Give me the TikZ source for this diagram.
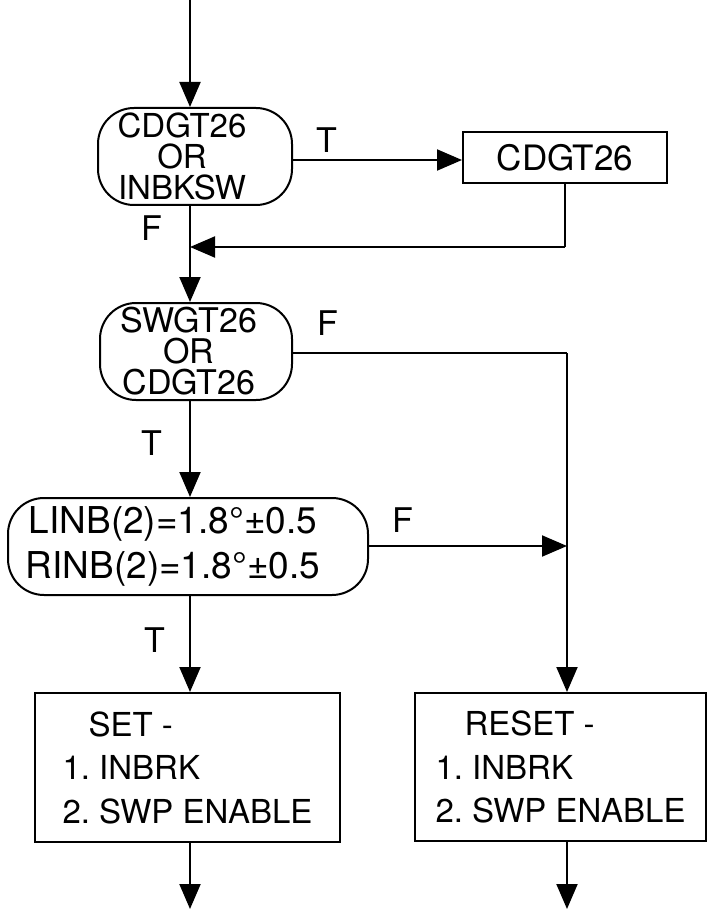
\documentclass[tikz,border=0pt]{standalone}
\usepackage{fontspec}
\setmainfont{TeX Gyre Heros}
\usetikzlibrary{arrows.meta}
\frenchspacing
\tikzset{
  dec/.style={draw, line width=2pt, rounded corners=36pt, inner sep=0pt},
  dtext/.style={inner sep=0pt, align=center},
  proc/.style={draw, line width=2pt, inner sep=0pt},
  conn/.style={line width=2pt},
  arr/.style={conn, -{Triangle[length=25pt,width=21pt]}},
  lbl/.style={inner sep=0pt, font=\fontsize{34}{34}\selectfont}
}
\begin{document}
\begin{tikzpicture}[x=1pt,y=-1pt]
\useasboundingbox (0,0) rectangle (711,909);
% decision nodes
\node[dec, minimum width=194pt, minimum height=97pt,
  label={[dtext, name=d1t, xshift=-13pt, font=\fontsize{33}{31}\selectfont]center:CDGT26\\OR\\INBKSW}] (d1) at (195,156.5) {};
\node[dec, minimum width=192pt, minimum height=97pt,
  label={[dtext, name=d2t, xshift=-7pt, font=\fontsize{34}{31}\selectfont]center:SWGT26\\OR\\CDGT26}] (d2) at (196,351.5) {};
\node[dec, minimum width=360pt, minimum height=97pt,
  label={[dtext, name=d3t, xshift=-15pt, font=\fontsize{37}{45}\selectfont]center:LINB(2)=1.8°±0.5\\RINB(2)=1.8°±0.5}] (d3) at (188,546.5) {};
% process nodes
\node[proc, minimum width=204pt, minimum height=51pt, font=\fontsize{35}{35}\selectfont] (cd) at (565,157.5) {CDGT26};
\node[proc, minimum width=305pt, minimum height=149pt, align=left, font=\fontsize{33}{43.5}\selectfont] (set) at (187.5,767.5) {\hspace*{26pt}SET -\\1. INBRK\\2. SWP ENABLE};
\node[proc, minimum width=291pt, minimum height=148pt, align=left, font=\fontsize{33}{43.5}\selectfont] (reset) at (560.5,767) {\hspace*{29pt}RESET -\\1. INBRK\\2. SWP ENABLE};
% labels
\node[lbl] (t1) at (327,140) {T};
\node[lbl] (f1) at (152,228) {F};
\node[lbl] (f2) at (328,323) {F};
\node[lbl] (t2) at (152,443) {T};
\node[lbl] (f3) at (403,520) {F};
\node[lbl] (t3) at (155,640) {T};
% coordinates
\coordinate (top) at (190,0);
\coordinate (merge) at (190,247);
\coordinate (rcol) at (567,353);
\coordinate (join) at (567,546);
\coordinate (endL) at (190,909);
\coordinate (endR) at (567,909);
% connectors
\draw[arr] (top) -- (top |- d1.north);
\draw[arr] (d1.east |- 0,160) -- (cd.west |- 0,160);
\draw[conn] (cd.south) -- (cd.south |- merge);
\draw[arr] (cd.south |- merge) -- (merge);
\draw[arr] (top |- d1.south) -- (top |- d2.north);
\draw[conn] (d2.east |- rcol) -- (rcol);
\draw[arr] (rcol) -- (rcol |- reset.north);
\draw[arr] (top |- d2.south) -- (top |- d3.north);
\draw[arr] (d3.east |- join) -- (join);
\draw[arr] (top |- d3.south) -- (top |- set.north);
\draw[arr] (top |- set.south) -- (endL);
\draw[arr] (rcol |- reset.south) -- (endR);
\end{tikzpicture}
\end{document}
